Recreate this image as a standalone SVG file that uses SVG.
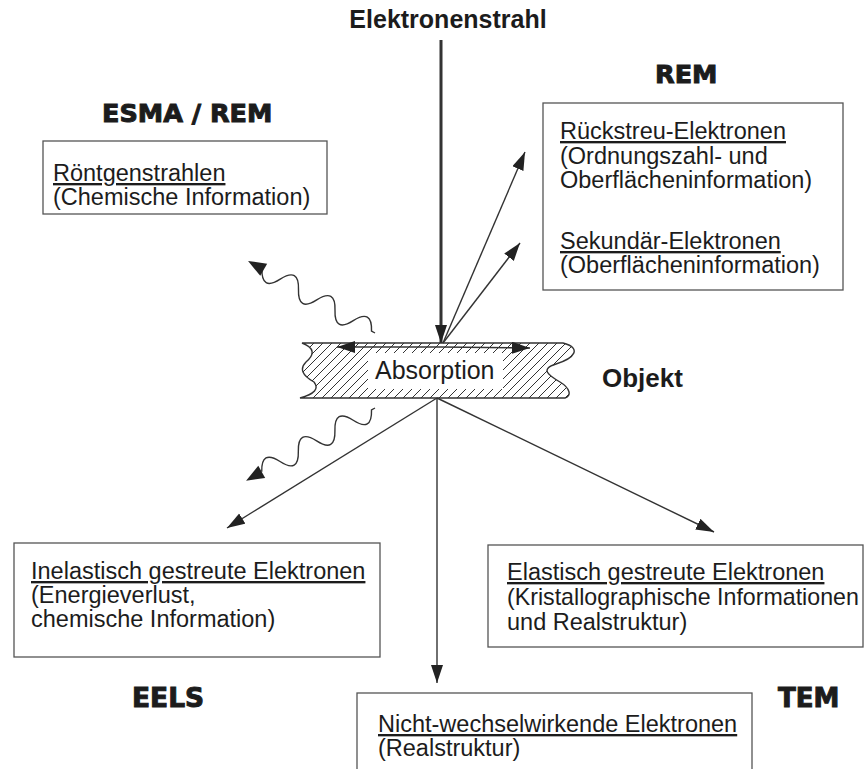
<svg xmlns="http://www.w3.org/2000/svg" width="865" height="769" viewBox="0 0 865 769">
<style>
  .t { font-family: "Liberation Sans", Arial, sans-serif; font-size: 23.5px; fill: #1c1c1c; }
  .u { text-decoration: underline; }
  .hb { font-family: "DejaVu Sans", "Liberation Sans", sans-serif; font-weight: bold; font-size: 25.5px; fill: #1c1c1c; stroke: #1c1c1c; stroke-width: 1; }
  .hl { font-family: "Liberation Sans", Arial, sans-serif; font-weight: bold; font-size: 25px; fill: #1c1c1c; }
  .box { fill: #ffffff; stroke: #555; stroke-width: 1.3; }
  .ln { stroke: #333; stroke-width: 1.4; fill: none; marker-end: url(#ah); }
  .wave { stroke: #333; stroke-width: 1.4; fill: none; }
  .head { fill: #222; }
</style>
<defs>
  <marker id="ah" markerUnits="userSpaceOnUse" markerWidth="19" markerHeight="13" refX="18" refY="6" orient="auto">
    <path d="M0,0 L18,6 L0,12 z" fill="#222"/>
  </marker>
  <pattern id="hatch" patternUnits="userSpaceOnUse" width="9" height="9">
    <path d="M0,9 L9,0 M-2,2 L2,-2 M7,11 L11,7" stroke="#333" stroke-width="1"/>
  </pattern>
</defs>
<rect width="865" height="769" fill="#ffffff"/>

<g id="title">
  <text class="hl" x="448" y="28" text-anchor="middle">Elektronenstrahl</text>
</g>

<g id="object">
  <path d="M302,343 L563,343 C582,348 575,358 556,364 C540,369 548,375 560,382 C570,388 572,396 565,398 L300,398 Q322,392 314,382 Q296,372 306,362 Q320,350 302,343 Z" fill="url(#hatch)" stroke="#333" stroke-width="1.4"/>
  <rect x="368" y="353" width="135" height="36" fill="#ffffff"/>
  <text class="t" x="375" y="379" style="font-size:25px">Absorption</text>
  <text class="hl" x="602" y="387" style="font-size:26px">Objekt</text>
</g>

<g id="label-esma">
  <text class="hb" x="102" y="122">ESMA / REM</text>
</g>
<g id="label-rem">
  <text class="hb" x="655" y="83">REM</text>
</g>
<g id="label-eels">
  <text class="hb" x="132" y="707" style="font-size:26.5px">EELS</text>
</g>
<g id="label-tem">
  <text class="hb" x="778" y="707" style="font-size:26px">TEM</text>
</g>

<g id="node-roentgen">
  <rect class="box" x="43" y="141" width="284" height="73"/>
  <text class="t u" x="53" y="181">Röntgenstrahlen</text>
  <text class="t" x="53" y="205">(Chemische Information)</text>
</g>

<g id="node-rem">
  <rect class="box" x="543" y="103" width="300" height="187"/>
  <text class="t u" x="560" y="139">Rückstreu-Elektronen</text>
  <text class="t" x="560" y="164">(Ordnungszahl- und</text>
  <text class="t" x="560" y="188">Oberflächeninformation)</text>
  <text class="t u" x="560" y="249">Sekundär-Elektronen</text>
  <text class="t" x="560" y="273">(Oberflächeninformation)</text>
</g>

<g id="node-inelastisch">
  <rect class="box" x="14" y="543" width="366" height="114"/>
  <text class="t u" x="31" y="579">Inelastisch gestreute Elektronen</text>
  <text class="t" x="31" y="603">(Energieverlust,</text>
  <text class="t" x="31" y="627">chemische Information)</text>
</g>

<g id="node-elastisch">
  <rect class="box" x="488" y="545" width="375" height="102"/>
  <text class="t u" x="507" y="580">Elastisch gestreute Elektronen</text>
  <text class="t" x="507" y="605" style="font-size:23.2px">(Kristallographische Informationen</text>
  <text class="t" x="507" y="630">und Realstruktur)</text>
</g>

<g id="node-nicht">
  <rect class="box" x="357" y="693" width="395" height="95"/>
  <text class="t u" x="378" y="732">Nicht-wechselwirkende Elektronen</text>
  <text class="t" x="378" y="756">(Realstruktur)</text>
</g>

<g id="connectors">
  <line class="ln" x1="441" y1="40" x2="441" y2="343" style="stroke-width:3"/>
  <line class="ln" x1="443" y1="343" x2="525" y2="152"/>
  <line class="ln" x1="443" y1="343" x2="520" y2="243"/>
  <line class="ln" x1="441" y1="347" x2="337" y2="347"/>
  <line class="ln" x1="441" y1="347" x2="530" y2="348"/>
  <line class="ln" x1="437" y1="398" x2="227" y2="528"/>
  <line class="ln" x1="437" y1="398" x2="714" y2="532"/>
  <line class="ln" x1="437" y1="398" x2="437" y2="683"/>
  <g transform="translate(375,408) rotate(150.6)">
    <path class="wave" d="M0,0 L4,0 q10.5,-20 21,0 t21,0 t21,0 t21,0 t21,0 t21,0"/>
    <polygon class="head" points="148,0 130,-7 130,7"/>
  </g>
  <g transform="translate(375,333) rotate(209.6)">
    <path class="wave" d="M0,0 L4,0 q10.5,20 21,0 t21,0 t21,0 t21,0 t21,0 t21,0"/>
    <polygon class="head" points="146,0 128,-7 128,7"/>
  </g>
</g>
</svg>
